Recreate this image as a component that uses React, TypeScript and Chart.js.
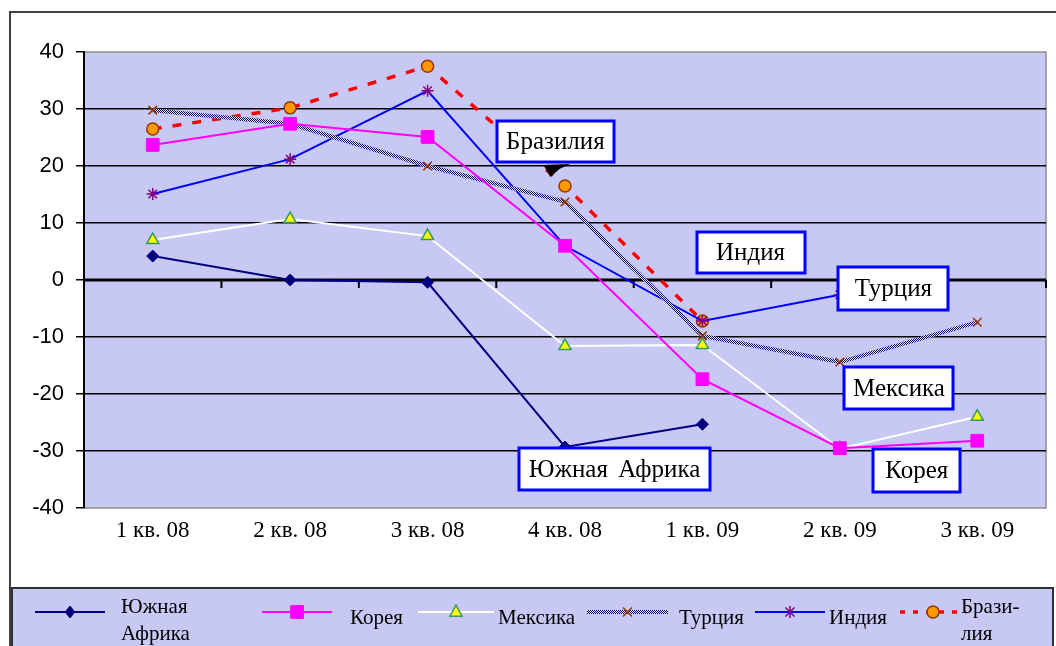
import React, { useEffect, useRef } from "react";
import { Chart, registerables } from "chart.js";
Chart.register(...registerables);

const categories = ["1 кв. 08", "2 кв. 08", "3 кв. 08", "4 кв. 08", "1 кв. 09", "2 кв. 09", "3 кв. 09"];
const southAfrica = [4.2, 0, -0.4, -29.3, -25.3, null, null];
const korea = [23.7, 27.4, 25.1, 6.0, -17.4, -29.5, -28.2];
const mexico = [7.0, 10.7, 7.7, -11.6, -11.4, -29.6, -24.0];
const turkey = [29.8, 27.4, 20.0, 13.7, -9.8, -14.4, -7.4];
const india = [15.1, 21.2, 33.2, 6.0, -7.2, -2.6, null];
const brazil = [26.5, 30.2, 37.5, 16.5, -7.2, null, null];

const legendNames = [["Южная", "Африка"], ["Корея"], ["Мексика"], ["Турция"], ["Индия"], ["Брази-", "лия"]];
const calloutTexts = ["Бразилия", "Индия", "Турция", "Мексика", "Корея", "Южная Африка"];
const yMin = -40;
const yMax = 40;
const yStep = 10;

// callout layout: anchor in data units (category index, value), box size in px
const calloutLayout = [
  { idx: 2.93, val: 24.3, w: 117, h: 41, blob: true },
  { idx: 4.35, val: 4.8, w: 108, h: 41 },
  { idx: 5.39, val: -1.5, w: 110, h: 43 },
  { idx: 5.43, val: -19.0, w: 109, h: 42 },
  { idx: 5.56, val: -33.4, w: 87, h: 43 },
  { idx: 3.36, val: -33.2, w: 191, h: 42 },
];

// legend layout (px)
const legendLayout = [
  { x1: 35, x2: 105, tx: 121 },
  { x1: 262, x2: 332, tx: 350 },
  { x1: 418, x2: 494, tx: 498 },
  { x1: 587, x2: 668, tx: 679 },
  { x1: 755, x2: 825, tx: 829 },
  { x1: 900, x2: 966, tx: 961 },
];

const LAVENDER = "#C8C8F5";

function makePattern(): CanvasPattern | string {
  const c = document.createElement("canvas");
  c.width = 2;
  c.height = 2;
  const g = c.getContext("2d");
  if (!g) return "#000080";
  g.fillStyle = "#E8E8FF";
  g.fillRect(0, 0, 2, 2);
  g.fillStyle = "#000060";
  g.fillRect(0, 0, 1, 1);
  g.fillRect(1, 1, 1, 1);
  const ctx = document.createElement("canvas").getContext("2d");
  return (ctx && ctx.createPattern(c, "repeat")) || "#000080";
}

function drawMarker(ctx: CanvasRenderingContext2D, style: string, x: number, y: number, r: number, fill: string, stroke: string, lw: number) {
  ctx.save();
  ctx.beginPath();
  ctx.lineWidth = lw;
  ctx.fillStyle = fill;
  ctx.strokeStyle = stroke;
  if (style === "rectRot") {
    ctx.moveTo(x, y - r);
    ctx.lineTo(x + r * 0.8, y);
    ctx.lineTo(x, y + r);
    ctx.lineTo(x - r * 0.8, y);
    ctx.closePath();
    ctx.fill();
    ctx.stroke();
  } else if (style === "rect") {
    const s = r * Math.SQRT1_2;
    ctx.rect(x - s, y - s, 2 * s, 2 * s);
    ctx.fill();
    ctx.stroke();
  } else if (style === "triangle") {
    ctx.moveTo(x, y - r);
    ctx.lineTo(x + r * 0.85, y + r * 0.6);
    ctx.lineTo(x - r * 0.85, y + r * 0.6);
    ctx.closePath();
    ctx.fill();
    ctx.stroke();
  } else if (style === "crossRot") {
    const s = r * 0.75;
    ctx.moveTo(x - s, y - s);
    ctx.lineTo(x + s, y + s);
    ctx.moveTo(x + s, y - s);
    ctx.lineTo(x - s, y + s);
    ctx.stroke();
  } else if (style === "star") {
    const s = r * 0.75;
    ctx.moveTo(x - s, y - s);
    ctx.lineTo(x + s, y + s);
    ctx.moveTo(x + s, y - s);
    ctx.lineTo(x - s, y + s);
    ctx.moveTo(x, y - r);
    ctx.lineTo(x, y + r);
    ctx.stroke();
  } else {
    ctx.arc(x, y, r, 0, Math.PI * 2);
    ctx.fill();
    ctx.stroke();
  }
  ctx.restore();
}

export default function App() {
  const ref = useRef<HTMLCanvasElement | null>(null);

  useEffect(() => {
    if (!ref.current) return;
    const pattern = makePattern();

    const seriesStyle = [
      { line: "#000080", lw: 2, dash: [] as number[], ps: "rectRot", r: 6, fill: "#000080", stroke: "#000080", plw: 1 },
      { line: "#FF00FF", lw: 2, dash: [], ps: "rect", r: 9, fill: "#FF00FF", stroke: "#FF00FF", plw: 1 },
      { line: "#FFFFFF", lw: 2, dash: [], ps: "triangle", r: 7, fill: "#FFFF00", stroke: "#339966", plw: 1.5 },
      { line: pattern, lw: 4, dash: [], ps: "crossRot", r: 6, fill: "#993300", stroke: "#993300", plw: 1.5 },
      { line: "#0000FF", lw: 2, dash: [], ps: "star", r: 6, fill: "#800080", stroke: "#800080", plw: 1.5 },
      { line: "#FF0000", lw: 3.5, dash: [9, 11], ps: "circle", r: 6, fill: "#FF9900", stroke: "#993300", plw: 1.5 },
    ];
    const seriesData = [southAfrica, korea, mexico, turkey, india, brazil];

    const decor = {
      id: "decor",
      beforeDraw(chart: any) {
        const { ctx, chartArea: a, width, height } = chart;
        ctx.save();
        ctx.fillStyle = "#FFFFFF";
        ctx.fillRect(0, 0, width, height);
        ctx.strokeStyle = "#404040";
        ctx.lineWidth = 2;
        ctx.beginPath();
        ctx.moveTo(10, height + 2);
        ctx.lineTo(10, 12);
        ctx.lineTo(width + 2, 12);
        ctx.stroke();
        ctx.fillStyle = LAVENDER;
        ctx.fillRect(a.left, a.top, a.right - a.left, a.bottom - a.top);
        ctx.strokeStyle = "#8C8C8C";
        ctx.lineWidth = 1.5;
        ctx.strokeRect(a.left, a.top, a.right - a.left, a.bottom - a.top);
        ctx.restore();
      },
      beforeDatasetsDraw(chart: any) {
        const { ctx, chartArea: a, scales } = chart;
        const y0 = scales.y.getPixelForValue(0);
        ctx.save();
        ctx.strokeStyle = "#000000";
        ctx.lineWidth = 3;
        ctx.beginPath();
        ctx.moveTo(a.left, y0);
        ctx.lineTo(a.right, y0);
        ctx.stroke();
        ctx.lineWidth = 2;
        const n = categories.length;
        for (let i = 0; i <= n; i++) {
          const x = scales.x.getPixelForValue(i - 0.5);
          ctx.beginPath();
          ctx.moveTo(x, y0);
          ctx.lineTo(x, y0 + 8);
          ctx.stroke();
        }
        ctx.restore();
      },
      afterDraw(chart: any) {
        const { ctx, scales, width, height } = chart;
        ctx.save();
        calloutLayout.forEach((c, i) => {
          const cx = scales.x.getPixelForValue(c.idx);
          const cy = scales.y.getPixelForValue(c.val);
          const x = Math.round(cx - c.w / 2);
          const y = Math.round(cy - c.h / 2);
          if (c.blob) {
            ctx.fillStyle = "#000000";
            ctx.beginPath();
            ctx.moveTo(cx - 12, y + c.h + 3);
            ctx.lineTo(cx + 15, y + c.h + 2);
            ctx.lineTo(cx + 4, y + c.h + 7);
            ctx.lineTo(cx - 5, y + c.h + 15);
            ctx.lineTo(cx - 9, y + c.h + 8);
            ctx.closePath();
            ctx.fill();
          }
          ctx.fillStyle = "#FFFFFF";
          ctx.fillRect(x, y, c.w, c.h);
          ctx.strokeStyle = "#0000FF";
          ctx.lineWidth = 3;
          ctx.strokeRect(x, y, c.w, c.h);
          ctx.fillStyle = "#000000";
          ctx.font = '25px "Liberation Serif", "DejaVu Serif", serif';
          ctx.textAlign = "center";
          ctx.textBaseline = "middle";
          (ctx as any).wordSpacing = "4px";
          ctx.fillText(calloutTexts[i], cx, cy + 1);
          (ctx as any).wordSpacing = "0px";
        });
        const lx = 12, ly = 588;
        ctx.fillStyle = LAVENDER;
        ctx.fillRect(lx, ly, width - 3 - lx, height + 2 - ly);
        ctx.strokeStyle = "#303030";
        ctx.lineWidth = 2;
        ctx.strokeRect(lx, ly, width - 3 - lx, height + 2 - ly);
        const my = 612;
        legendLayout.forEach((L, i) => {
          const s = seriesStyle[i];
          ctx.save();
          ctx.strokeStyle = s.line as any;
          ctx.lineWidth = s.lw;
          ctx.setLineDash(s.dash.length ? [5, 8] : []);
          ctx.beginPath();
          ctx.moveTo(L.x1, my);
          ctx.lineTo(L.x2, my);
          ctx.stroke();
          ctx.restore();
          drawMarker(ctx, s.ps, (L.x1 + L.x2) / 2, my, s.ps === "rect" ? 9 : s.r, s.fill, s.stroke, s.plw);
          const lines = legendNames[i];
          ctx.fillStyle = "#000000";
          ctx.font = '21px "Liberation Serif", "DejaVu Serif", serif';
          ctx.textAlign = "left";
          ctx.textBaseline = "middle";
          if (lines.length === 1) {
            ctx.fillText(lines[0], L.tx, 618);
          } else {
            ctx.fillText(lines[0], L.tx, 607);
            ctx.fillText(lines[1], L.tx, 634);
          }
        });
        ctx.restore();
      },
    };

    const chart = new Chart(ref.current, {
      type: "line",
      data: {
        labels: categories,
        datasets: seriesData.map((d, i) => {
          const s = seriesStyle[i];
          return {
            label: legendNames[i].join(""),
            data: d,
            borderColor: s.line as any,
            borderWidth: s.lw,
            borderDash: s.dash,
            pointStyle: s.ps as any,
            pointRadius: s.r,
            pointBackgroundColor: s.fill,
            pointBorderColor: s.stroke,
            pointBorderWidth: s.plw,
            tension: 0,
            spanGaps: false,
            fill: false,
          };
        }),
      },
      options: {
        responsive: false,
        animation: false,
        devicePixelRatio: 1,
        layout: { padding: { left: 10, right: 2, top: 52, bottom: 0 } },
        plugins: { legend: { display: false }, tooltip: { enabled: false } },
        scales: {
          x: {
            type: "category",
            offset: true,
            grid: { display: false, drawTicks: false },
            border: { display: false },
            ticks: {
              color: "#000000",
              padding: 9,
              font: { family: '"Liberation Serif", "DejaVu Serif", serif', size: 23 },
              maxRotation: 0,
            },
            afterFit(scale: any) {
              scale.height = 138;
            },
          },
          y: {
            min: yMin,
            max: yMax,
            ticks: {
              stepSize: yStep,
              color: "#000000",
              padding: 12,
              font: { family: '"Liberation Sans", Arial, sans-serif', size: 22 },
            },
            grid: {
              color: (c: any) => (c.tick && (c.tick.value === yMin || c.tick.value === yMax || c.tick.value === 0) ? "rgba(0,0,0,0)" : "#000000"),
              lineWidth: 1.5,
              tickColor: "#000000",
              tickLength: 8,
              drawTicks: true,
            },
            border: { display: true, color: "#000000", width: 2 },
            afterFit(scale: any) {
              scale.width = 74;
            },
          },
        },
      },
      plugins: [decor],
    } as any);

    return () => chart.destroy();
  }, []);

  return (
    <div style={{ position: "fixed", left: 0, top: 0, width: 1056, height: 646, background: "#fff" }}>
      <canvas ref={ref} width={1056} height={646} style={{ width: 1056, height: 646, display: "block" }} />
    </div>
  );
}
